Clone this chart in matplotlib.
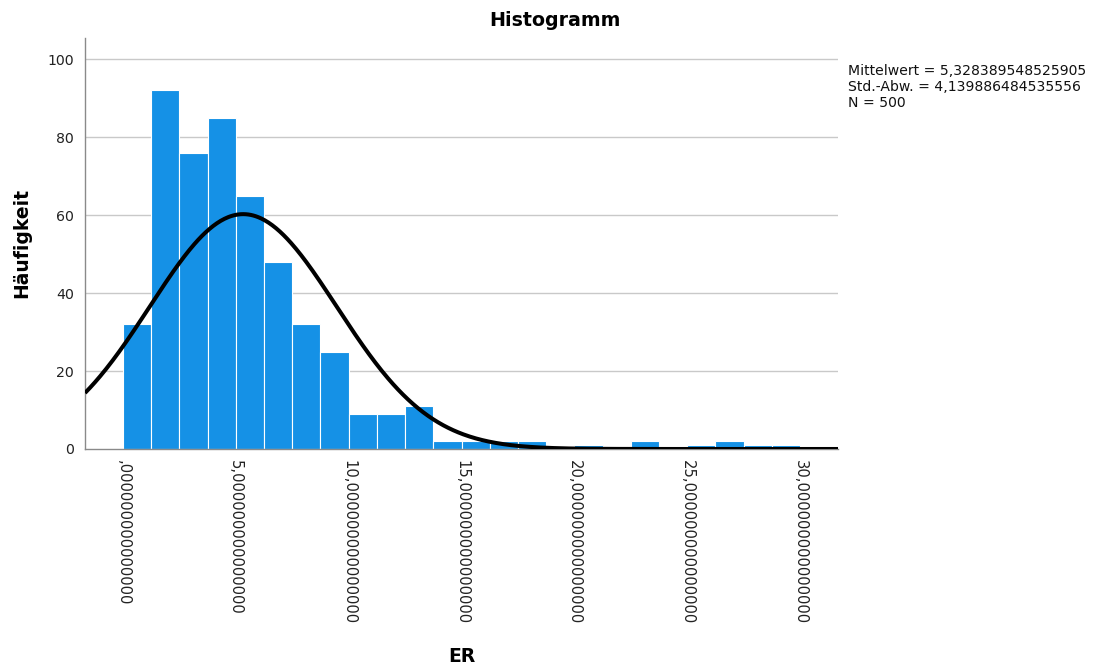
import numpy as np
import matplotlib
matplotlib.use("Agg")
import matplotlib.pyplot as plt
from matplotlib.ticker import FuncFormatter

# ---- data ----
bin_start = 0.0
bin_width = 1.25
counts = [32, 92, 76, 85, 65, 48, 32, 25, 9, 9, 11, 2, 2, 2, 2, 0, 1, 0, 2, 0, 1, 2, 1, 1]
mean = 5.328389548525905
std = 4.139886484535556
n_total = 500
x_ticks = [0, 5, 10, 15, 20, 25, 30]
y_ticks = [0, 20, 40, 60, 80, 100]

plt.rcParams['font.family'] = ['DejaVu Sans']

fig = plt.figure(figsize=(11.01, 6.68), dpi=100)
ax = fig.add_axes([85/1101, 1-449/668, (838-85)/1101, (449-38)/668])

lefts = bin_start + np.arange(len(counts)) * bin_width
ax.bar(lefts, counts, width=bin_width, align='edge', color='#1591E6',
       edgecolor='white', linewidth=0.8, zorder=2)

xlim = (-1.68, 31.68)
xs = np.linspace(xlim[0], xlim[1], 600)
pdf = n_total * bin_width / (std * np.sqrt(2*np.pi)) * np.exp(-0.5*((xs-mean)/std)**2)
ax.plot(xs, pdf, color='black', lw=2.9, zorder=4, solid_capstyle='butt')

ax.set_xlim(*xlim)
ax.set_ylim(0, 105.4)
ax.set_yticks(y_ticks)
ax.set_xticks(x_ticks)

def fmt(v, pos):
    s = f"{v:.15f}".replace('.', ',')
    if s.startswith('0,'):
        s = s[1:]
    return s
ax.xaxis.set_major_formatter(FuncFormatter(fmt))

for y in y_ticks[1:]:
    ax.axhline(y, color='#C9C9C9', lw=1.0, zorder=1)

for s in ['top', 'right']:
    ax.spines[s].set_visible(False)
ax.spines['left'].set_color('#8A8A8A')
ax.spines['bottom'].set_color('#8A8A8A')
ax.spines['left'].set_linewidth(1.0)
ax.spines['bottom'].set_linewidth(1.0)

ax.tick_params(axis='y', length=0, pad=8, labelsize=10.2, labelcolor='#222222')
ax.tick_params(axis='x', length=0, pad=8, labelsize=10.6, labelcolor='#222222')
for lab in ax.get_xticklabels():
    lab.set_rotation(270)
    lab.set_va('top')
    lab.set_ha('center')

ax.set_ylabel('Häufigkeit', fontsize=13.5, fontweight='bold')
ax.yaxis.set_label_coords((31-85)/(838-85), 0.5)
fig.text(462/1101, 1-657/668, 'ER', fontsize=13.5, fontweight='bold', ha='center', va='center')
fig.text(555/1101, 1-20/668, 'Histogramm', fontsize=13.7, fontweight='bold', ha='center', va='center')

stats = ["Mittelwert = 5,328389548525905", "Std.-Abw. = 4,139886484535556", "N = 500"]
for i, t in enumerate(stats):
    fig.text(848/1101, 1-(71+16*i)/668, t, fontsize=10.1, ha='left', va='center', color='#111111')

fig.savefig('out.png', dpi=100)
